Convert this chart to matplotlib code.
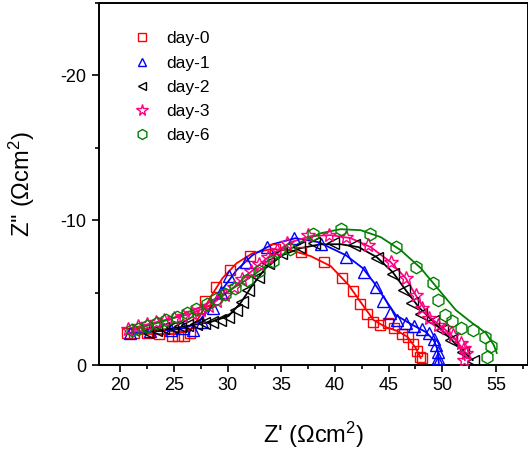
import matplotlib
matplotlib.use("Agg")
import matplotlib.pyplot as plt
from matplotlib.lines import Line2D
from matplotlib.ticker import MultipleLocator

plt.rcParams["font.family"] = ["Liberation Sans", "DejaVu Sans"]
plt.rcParams["mathtext.fontset"] = "custom"
plt.rcParams["mathtext.rm"] = "Liberation Sans"
plt.rcParams["mathtext.it"] = "Liberation Sans:italic"
plt.rcParams["axes.unicode_minus"] = False

# measured points (Z', Z'') per day, and the fitted curves
d0_x = [20.65, 21.3, 22.5, 23.6, 24.85, 25.4, 25.97, 26.5, 27.2, 27.9, 28.87, 30.17, 32.04, 34.37,
        36.8, 38.95, 40.63, 41.65, 42.3, 42.96, 43.52, 44.17, 44.92, 45.48, 46.23, 46.79,
        47.25, 47.63, 47.9, 48.1]
d0_y = [-2.21, -2.2, -2.2, -2.15, -2.0, -2.0, -2.0, -2.2, -3.24, -4.41, -5.38, -6.55, -7.52, -8.0,
        -7.79, -7.10, -6.0, -5.1, -4.2, -3.52, -2.97, -2.76, -2.9, -2.55, -2.14, -1.93,
        -1.45, -0.97, -0.55, -0.48]
d0_fx = [20.65, 22.8, 25.13, 26.53, 27.47, 28.4, 29.52, 30.83, 32.32, 34.0, 35.87, 37.73, 39.6,
         41.28, 42.59, 43.61, 44.73, 45.85, 46.79, 47.53, 48.0]
d0_fy = [-2.21, -2.14, -2.14, -2.41, -3.45, -4.69, -6.0, -7.03, -7.72, -8.0, -7.93, -7.52, -6.83,
         -5.52, -4.14, -3.10, -2.62, -2.34, -1.93, -1.17, -0.48]

d1_x = [20.93, 22.8, 24.67, 25.79, 26.72, 27.65, 28.59, 29.33, 30.08, 31.67, 33.63, 36.15, 38.67,
        41.0, 42.68, 43.8, 44.45, 45.1, 45.76, 46.6, 47.35, 48.09, 48.75, 49.21, 49.4, 49.59,
        49.59, 49.59]
d1_y = [-2.21, -2.34, -2.41, -2.55, -2.41, -2.97, -3.93, -5.03, -6.14, -7.10, -8.14, -8.76, -8.34,
        -7.45, -6.41, -5.38, -4.41, -3.59, -3.10, -2.90, -2.69, -2.48, -2.21, -1.79, -1.38, -0.90,
        -0.48, -0.21]
d1_fx = [20.93, 23.73, 26.07, 27.28, 28.4, 29.52, 30.83, 32.32, 34.19, 36.33, 38.48, 41.0, 42.59,
         43.61, 44.73, 45.67, 47.07, 48.47, 49.21, 49.59, 49.68]
d1_fy = [-2.21, -2.34, -2.55, -2.97, -4.0, -5.24, -6.55, -7.59, -8.34, -8.76, -8.48, -7.59, -6.69,
         -5.72, -4.48, -3.45, -2.83, -2.28, -1.72, -1.03, -0.14]

d2_x = [22.52, 23.27, 24.01, 24.76, 25.51, 26.25, 27.0, 27.75, 28.49, 29.24, 29.99, 30.73, 31.29,
        31.85, 32.79, 33.72, 34.93, 36.61, 38.01, 39.79, 41.75, 43.89, 45.39, 46.41, 47.16, 48.0,
        49.12, 49.96, 50.8, 51.92, 52.85]
d2_y = [-2.28, -2.41, -2.55, -2.62, -2.69, -2.76, -2.83, -2.90, -2.97, -3.10, -3.31, -3.79, -4.34,
        -5.17, -6.07, -7.03, -7.72, -8.14, -8.41, -8.41, -8.28, -7.38, -6.28, -5.17, -4.28, -3.52,
        -3.03, -2.41, -1.72, -0.90, -0.28]
d2_fx = [22.52, 25.6, 28.4, 30.08, 31.2, 32.32, 33.53, 35.12, 36.8, 38.67, 40.53, 42.21, 43.89,
         45.39, 46.6, 47.81, 49.12, 50.52, 51.73, 52.85]
d2_fy = [-2.28, -2.62, -2.97, -3.38, -4.28, -5.52, -6.69, -7.59, -8.07, -8.34, -8.34, -8.14, -7.45,
         -6.41, -5.17, -4.0, -3.03, -2.0, -1.10, -0.34]

d3_x = [20.75, 21.59, 22.43, 23.27, 24.1, 24.95, 25.79, 26.63, 27.47, 28.21, 28.96, 29.71, 30.55,
        31.29, 32.13, 32.88, 33.72, 34.56, 35.49, 37.45, 39.41, 41.0, 43.05, 45.2, 46.6, 47.53,
        48.09, 48.75, 49.59, 50.33, 51.0, 51.73, 52.01, 52.2, 52.01]
d3_y = [-2.48, -2.69, -2.83, -2.97, -3.10, -3.24, -3.38, -3.59, -3.79, -4.07, -4.41, -4.83, -5.38,
        -5.93, -6.48, -6.97, -7.45, -7.93, -8.41, -8.97, -8.97, -8.83, -8.28, -7.10, -6.0, -4.83,
        -3.93, -3.24, -2.76, -2.55, -2.07, -1.52, -1.17, -0.83, -0.34]
d3_fx = [20.75, 23.73, 26.53, 28.4, 30.27, 32.13, 34.0, 35.87, 37.73, 39.6, 41.47, 43.33, 45.2,
         46.6, 47.81, 48.93, 50.33, 51.36, 51.92, 52.11]
d3_fy = [-2.48, -3.03, -3.52, -4.14, -5.17, -6.41, -7.59, -8.48, -8.90, -8.97, -8.76, -8.14, -7.10,
         -6.0, -4.48, -3.24, -2.41, -1.72, -1.03, -0.34]

d6_x = [21.12, 21.59, 22.52, 23.45, 24.29, 25.23, 26.16, 27.09, 28.03, 28.87, 29.71, 30.64, 31.76,
        32.88, 34.19, 35.77, 37.92, 40.53, 43.24, 45.67, 47.53, 49.12, 49.59, 50.24, 50.9, 51.73,
        52.85, 53.97, 54.53, 54.16]
d6_y = [-2.41, -2.48, -2.69, -2.90, -3.10, -3.31, -3.59, -3.86, -4.21, -4.55, -4.90, -5.31, -5.86,
        -6.48, -7.17, -8.0, -9.03, -9.38, -9.03, -8.14, -6.76, -5.66, -4.48, -3.45, -3.03, -2.55,
        -2.41, -1.93, -1.31, -0.55]
d6_fx = [21.12, 24.67, 27.47, 29.8, 32.13, 34.47, 36.8, 38.67, 40.53, 42.4, 44.27, 46.13, 48.0,
         49.87, 51.27, 52.67, 54.07, 54.81, 55.09]
d6_fy = [-2.41, -3.17, -4.0, -4.97, -6.07, -7.31, -8.48, -9.10, -9.38, -9.31, -8.83, -7.93, -6.69,
         -5.03, -3.79, -2.97, -2.21, -1.38, -0.83]

labels = ["day-0", "day-1", "day-2", "day-3", "day-6"]
colors = ["#FF0000", "#0000FF", "#000000", "#FF0080", "#008000"]
markers = ["s", "^", "<", "*", "h"]
msizes = [7.5, 8, 8, 10.5, 9]

fig = plt.figure(figsize=(5.28, 4.53), dpi=100)
ax = fig.add_axes([99 / 528, 88 / 453, 429 / 528, 362 / 453])

series = [(d0_x, d0_y, d0_fx, d0_fy), (d1_x, d1_y, d1_fx, d1_fy), (d2_x, d2_y, d2_fx, d2_fy),
          (d3_x, d3_y, d3_fx, d3_fy), (d6_x, d6_y, d6_fx, d6_fy)]
handles = []
for (x, y, fx, fy), lbl, c, m, ms in zip(series, labels, colors, markers, msizes):
    ax.plot(fx, fy, "-", color=c, lw=1.3, zorder=2)
    ax.plot(x, y, m, ls="none", mfc="none", mec=c, mew=1.0, ms=ms, zorder=3)
    handles.append(Line2D([], [], marker=m, ls="none", mfc="none", mec=c, mew=1.0,
                          ms=ms * 0.8, label=lbl))

ax.set_xlim(18, 58)
ax.set_ylim(0, -25)
ax.xaxis.set_major_locator(MultipleLocator(5))
ax.xaxis.set_minor_locator(MultipleLocator(2.5))
ax.yaxis.set_major_locator(MultipleLocator(10))
ax.yaxis.set_minor_locator(MultipleLocator(5))
ax.tick_params(which="both", direction="out", width=1.2, labelsize=13, top=False, right=False)
ax.tick_params(which="major", length=5, pad=4)
ax.tick_params(which="minor", length=3)
for s in ax.spines.values():
    s.set_linewidth(1.4)

ax.set_xlabel("Z' (Ωcm$^2$)", fontsize=17, labelpad=18)
ax.set_ylabel("Z'' (Ωcm$^2$)", fontsize=17, labelpad=17)

ax.legend(handles=handles, loc="upper left", bbox_to_anchor=(0.039, 0.965), frameon=False,
          fontsize=12.5, handlelength=1.2, handletextpad=0.8, labelspacing=0.52)

fig.savefig("out.png", dpi=100)
